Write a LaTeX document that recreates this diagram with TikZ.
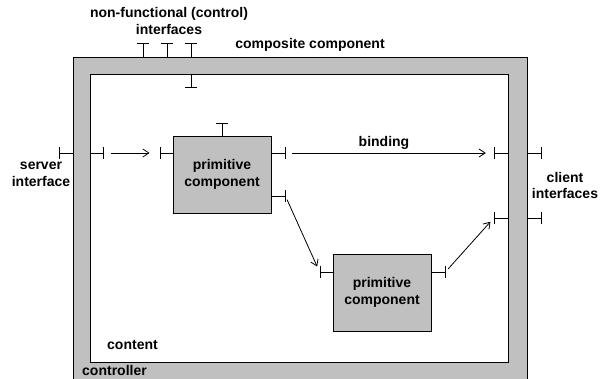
\documentclass[tikz,border=0pt]{standalone}
\usepackage{fontspec}
\setmainfont{Liberation Sans}
\usetikzlibrary{arrows.meta,positioning}
\definecolor{FrameGray}{HTML}{C0C0C0}

\begin{document}
\begin{tikzpicture}[x=1pt,y=-1pt,
    prim/.style={draw,fill=FrameGray,minimum width=98pt,minimum height=77pt,
      align=center,font=\bfseries\fontsize{14}{16.5}\selectfont},
    lbl/.style={font=\bfseries\fontsize{14}{16.5}\selectfont,align=center,inner sep=0pt},
    itf/.style={-{Bar[width=12pt]},line width=0.8pt},
    bind/.style={-{Straight Barb[length=6pt,width=8pt]},line width=0.8pt}
  ]
    \useasboundingbox (0,0) rectangle (603,379);

    % membrane (controller) and content
    \node[draw,line width=0.8pt,fill=FrameGray,anchor=north west,inner sep=0pt,
      minimum width=454pt,minimum height=322pt] (ctrl) at (73,57) {};
    \node[draw,line width=0.8pt,fill=white,anchor=north west,inner sep=0pt,
      minimum width=418pt,minimum height=288pt] (cont) at (90,74) {};

    \node[prim,line width=0.8pt] (p1) at (222,174.5) {primitive\\component};
    \node[prim,line width=0.8pt] (p2) at (382,292.5) {primitive\\component};

    % rows of the interfaces
    \coordinate (row1) at (0,153);
    \coordinate (row2) at (0,218);
    \coordinate (row3) at (0,196);
    \coordinate (row4) at (0,272);

    % control interfaces
    \foreach \x in {143,167,191}
      \draw[itf] (ctrl.north -| \x,0) -- ++(0,-14);
    \draw[itf] (cont.north -| 191,0) -- ++(0,14) coordinate (ctlin);
    \draw[itf] (p1.north) -- ++(0,-13) coordinate (p1ctl);

    % server side
    \draw[itf] (ctrl.west |- row1) -- ++(-14,0) coordinate (srvout);
    \draw[itf] (cont.west |- row1) -- ++(14,0) coordinate (srvin);
    \draw[itf] (p1.west |- row1) -- ++(-13,0) coordinate (p1in);
    \draw[itf] (p1.east |- row1) -- ++(14,0) coordinate (p1out);
    \draw[itf] (p1.east |- row3) -- ++(14,0) coordinate (p1outb);
    \draw[itf] (p2.west |- row4) -- ++(-13,0) coordinate (p2in);
    \draw[itf] (p2.east |- row4) -- ++(14,0) coordinate (p2out);

    % client side
    \draw[itf] (cont.east |- row1) -- ++(-15,0) coordinate (cliin);
    \draw[itf] (ctrl.east |- row1) -- ++(14,0) coordinate (cliout);
    \draw[itf] (cont.east |- row2) -- ++(-15,0) coordinate (cliinb);
    \draw[itf] (ctrl.east |- row2) -- ++(14,0) coordinate (clioutb);

    % bindings
    \draw[bind,shorten <=7pt,shorten >=10pt] (srvin) -- (p1in);
    \draw[bind,shorten <=7pt,shorten >=8pt] (p1out) -- (cliin);
    \draw[bind,shorten <=4pt,shorten >=6pt] (p1outb) -- (p2in);
    \draw[bind,shorten <=4pt,shorten >=5pt] (p2out) -- (cliinb);

    % labels
    \node[lbl] (nfi) at (169,21) {non-functional (control)\\interfaces};
    \node[lbl] (cc) at (310,45) {composite component};
    \node[lbl] (srv) at (41,174.5) {server\\interface};
    \node[lbl] (bnd) at (384,143) {binding};
    \node[lbl] (cli) at (565,185.5) {client\\interfaces};
    \node[lbl,anchor=west] (cnt) at (107,345) {content};
    \node[lbl,anchor=west] (ctl) at (82,370) {controller};
\end{tikzpicture}
\end{document}
